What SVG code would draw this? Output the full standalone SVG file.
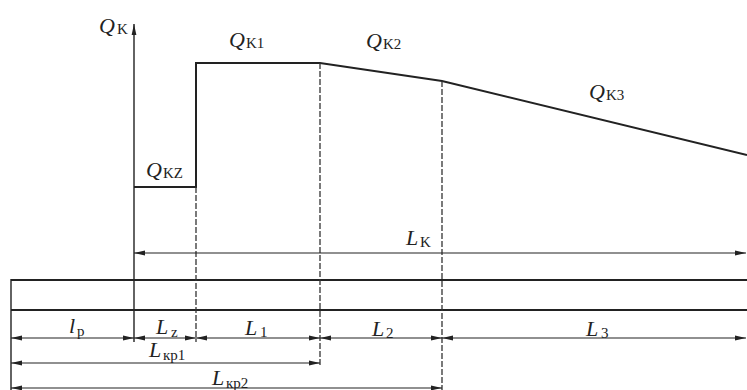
<svg xmlns="http://www.w3.org/2000/svg" width="747" height="390" viewBox="0 0 747 390">
<defs>
<marker id="ah" markerUnits="userSpaceOnUse" markerWidth="11" markerHeight="6" refX="11" refY="3" orient="auto-start-reverse">
<path d="M0,0.6 L11,3 L0,5.4 z" fill="#222"/>
</marker>
<style>
.main{fill:none;stroke:#222;stroke-width:2}
.thin{fill:none;stroke:#222;stroke-width:1.4}
.dash{fill:none;stroke:#333;stroke-width:1.3;stroke-dasharray:6 2}
.dim{fill:none;stroke:#222;stroke-width:1.2;marker-start:url(#ah);marker-end:url(#ah)}
.m{font-style:italic;font-size:22px}
.s{font-size:15px;font-style:normal}
</style>
</defs>
<rect width="747" height="390" fill="#fff"/>
<g id="profile">
<polyline class="main" points="134,187 196,187 196,63 320,63 442,81 747,155"/>
</g>
<g id="axis">
<line class="thin" x1="134" y1="342" x2="134" y2="24" style="marker-end:url(#ah)"/>
</g>
<g id="bar">
<line class="main" x1="11" y1="280" x2="747" y2="280"/>
<line class="main" x1="11" y1="310" x2="747" y2="310"/>
<line class="thin" x1="11" y1="279" x2="11" y2="390"/>
</g>
<g id="connectors">
<line class="dash" x1="196" y1="187" x2="196" y2="342"/>
<line class="dash" x1="320" y1="63" x2="320" y2="367"/>
<line class="dash" x1="442" y1="81" x2="442" y2="390"/>
<line class="dim" x1="134" y1="253" x2="746" y2="253"/>
<line class="dim" x1="11" y1="338" x2="134" y2="338"/>
<line class="dim" x1="134" y1="338" x2="196" y2="338"/>
<line class="dim" x1="196" y1="338" x2="320" y2="338"/>
<line class="dim" x1="320" y1="338" x2="442" y2="338"/>
<line class="dim" x1="442" y1="338" x2="746" y2="338"/>
<line class="dim" x1="11" y1="363" x2="320" y2="363"/>
<line class="dim" x1="11" y1="388" x2="442" y2="388"/>
</g>
<g id="labels" font-family="Liberation Serif, Times New Roman, serif" fill="#222">
<text x="99" y="33"><tspan class="m">Q</tspan><tspan class="s" x="117" y="34">K</tspan></text>
<text x="229" y="47"><tspan class="m">Q</tspan><tspan class="s" x="246" y="48">K1</tspan></text>
<text x="146" y="177"><tspan class="m">Q</tspan><tspan class="s" x="163" y="178">KZ</tspan></text>
<text x="366" y="48"><tspan class="m">Q</tspan><tspan class="s" x="383" y="49">K2</tspan></text>
<text x="589" y="99"><tspan class="m">Q</tspan><tspan class="s" x="606" y="100">K3</tspan></text>
<text x="406" y="245"><tspan class="m">L</tspan><tspan class="s" x="420" y="247">K</tspan></text>
<text x="69" y="333"><tspan class="m">l</tspan><tspan class="s" x="77" y="336">p</tspan></text>
<text x="156" y="334"><tspan class="m">L</tspan><tspan class="s" x="171" y="337" font-style="italic">z</tspan></text>
<text x="245" y="335"><tspan class="m">L</tspan><tspan class="s" x="260" y="337">1</tspan></text>
<text x="372" y="336"><tspan class="m">L</tspan><tspan class="s" x="386" y="338">2</tspan></text>
<text x="586" y="336"><tspan class="m">L</tspan><tspan class="s" x="601" y="338">3</tspan></text>
<text x="149" y="357"><tspan class="m">L</tspan><tspan class="s" x="163" y="360">кр1</tspan></text>
<text x="212" y="385"><tspan class="m">L</tspan><tspan class="s" x="226" y="388">кр2</tspan></text>
</g>
</svg>
